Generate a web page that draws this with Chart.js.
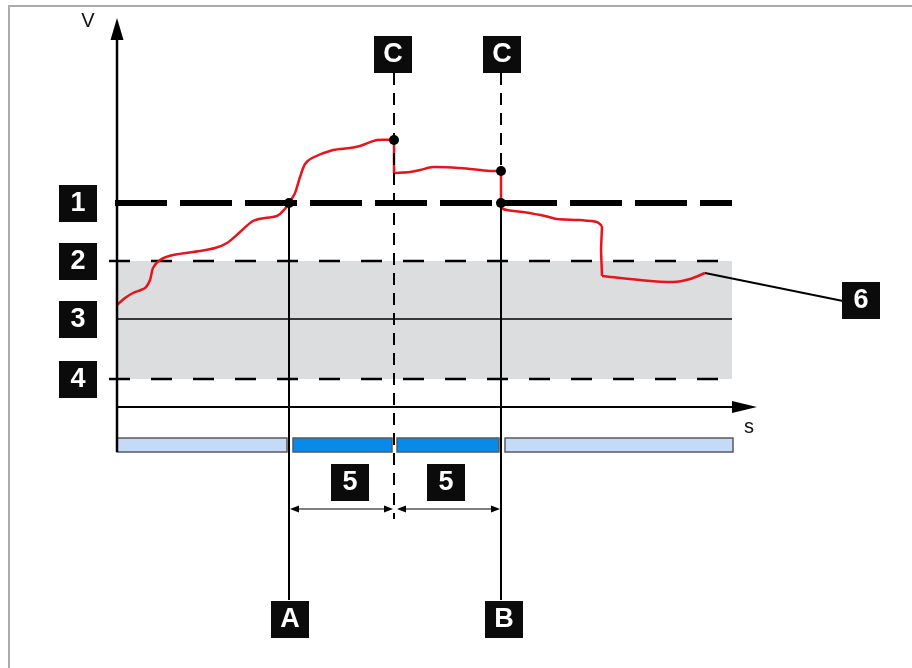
<!DOCTYPE html>
<html>
<head>
<meta charset="utf-8">
<title>Speed threshold diagram</title>
<script src="https://cdn.jsdelivr.net/npm/chart.js@4.4.0/dist/chart.umd.min.js"></script>
<style>
    html, body { margin: 0; padding: 0; background: #ffffff; }
    canvas { display: block; }
</style>
</head>
<body>
<canvas id="diagram-chart" width="912" height="668"></canvas>
<script>
// Threshold levels (V) with their labels
const levelLabels = ['1', '2', '3', '4'];
const levelValues = [40.8, 29.2, 17.6, 5.6];

// Measured speed curve (red)
const curveX = [0, 1.6, 3.2, 5.6, 6.6, 7.2, 8.6, 11.2, 16.6, 19.6, 22, 24.6, 27.2, 29.6, 32, 33.4, 34.4, 35.6, 36.6, 37.6, 39, 43.2, 46.6, 48.6, 52, 55.4,
    55.4, 58.6, 60.6, 63.2, 68.6, 74.6, 76.8,
    76.8, 77.2, 81.2, 85.6, 88, 92.6, 96, 97, 96.8, 97, 104.6, 111.2, 114.6, 117.6];
const curveY = [20.4, 21.8, 22.8, 23.8, 25.4, 27.8, 29.4, 30.4, 31.2, 31.8, 32.8, 35, 37.2, 37.8, 38.2, 39.4, 40.8, 42.8, 46, 48.6, 49.8, 51.4, 51.8, 52.2, 53.4, 53.4,
    46.8, 47, 47.4, 48, 47.8, 47.2, 47.2,
    40.8, 39.6, 39, 38.2, 37.6, 37.4, 37, 36.2, 31.4, 26.2, 25.4, 25, 25.6, 26.8];
// index ranges of the curve: smooth pieces and the straight drops between them
const curvePieces = [[0, 25, true], [25, 26, false], [26, 32, true], [32, 33, false], [33, 40, true], [40, 42, false], [42, 46, true]];

// Event markers: A, C, C/B
const eventLabels = ['A', 'C', 'C', 'B'];
const eventX = [34.4, 55.4, 76.8, 76.8];

// Highlighted points on the curve
const dotX = [34.4, 55.4, 76.8, 76.8];
const dotY = [40.8, 53.4, 47.2, 40.8];

// Bar strip below the axis
const stripStart = [0, 35.2, 56, 77.6];
const stripEnd = [34, 55, 76.4, 123.2];
const stripActive = [false, true, true, false];

const bandEnd = 123;
const RED = '#e8141c';

function pts(xs, ys) {
    return xs.map((x, i) => ({ x: x, y: ys[i] }));
}

function hLine(y, x0, x1) {
    return [{ x: x0, y: y }, { x: x1, y: y }];
}

function vLine(x, y0, y1) {
    return [{ x: x, y: y0 }, { x: x, y: y1 }];
}

// Draw a black label box with white text
function labelBox(ctx, cx, cy, text) {
    ctx.fillStyle = '#0b0b0b';
    ctx.fillRect(Math.round(cx - 19), Math.round(cy - 18.5), 38, 37);
    ctx.fillStyle = '#ffffff';
    ctx.font = 'bold 27px "Liberation Sans", Arial, sans-serif';
    ctx.textAlign = 'center';
    ctx.textBaseline = 'middle';
    ctx.fillText(text, cx, cy + 1);
}

function arrowHead(ctx, tipX, tipY, dir, len, half) {
    ctx.beginPath();
    if (dir === 'up') {
        ctx.moveTo(tipX, tipY);
        ctx.lineTo(tipX - half, tipY + len);
        ctx.lineTo(tipX + half, tipY + len);
    } else if (dir === 'right') {
        ctx.moveTo(tipX, tipY);
        ctx.lineTo(tipX - len, tipY - half);
        ctx.lineTo(tipX - len, tipY + half);
    } else {
        ctx.moveTo(tipX, tipY);
        ctx.lineTo(tipX + len, tipY - half);
        ctx.lineTo(tipX + len, tipY + half);
    }
    ctx.closePath();
    ctx.fill();
}

const diagramPlugin = {
    id: 'diagram',
    beforeDraw(chart) {
        const ctx = chart.ctx;
        // frame (top and left only)
        ctx.save();
        ctx.strokeStyle = '#ababab';
        ctx.lineWidth = 2;
        ctx.beginPath();
        ctx.moveTo(9, 668);
        ctx.lineTo(9, 6);
        ctx.lineTo(912, 6);
        ctx.stroke();
        ctx.restore();
    },
    afterDatasetsDraw(chart) {
        const ctx = chart.ctx;
        const xs = chart.scales.x;
        const ys = chart.scales.y;
        const px = v => xs.getPixelForValue(v);
        const py = v => ys.getPixelForValue(v);
        ctx.save();

        // strip below the x axis
        const sTop = py(-6.2), sBot = py(-9);
        stripStart.forEach((s, i) => {
            const x0 = px(s), x1 = px(stripEnd[i]);
            ctx.fillStyle = stripActive[i] ? '#0a8ae8' : '#c4daf7';
            ctx.fillRect(x0, sTop, x1 - x0, sBot - sTop);
            ctx.strokeStyle = '#5a5a5a';
            ctx.lineWidth = 1.5;
            ctx.strokeRect(x0, sTop, x1 - x0, sBot - sTop);
        });

        // axes
        ctx.strokeStyle = '#000';
        ctx.fillStyle = '#000';
        ctx.lineWidth = 2.5;
        ctx.beginPath();
        ctx.moveTo(px(0), py(-9));
        ctx.lineTo(px(0), py(74));
        ctx.stroke();
        arrowHead(ctx, px(0), py(77.8), 'up', 22, 6.5);
        ctx.lineWidth = 2;
        ctx.beginPath();
        ctx.moveTo(px(0), py(0));
        ctx.lineTo(px(124), py(0));
        ctx.stroke();
        arrowHead(ctx, px(128), py(0), 'right', 25, 6);

        // dimension arrows (5)
        ctx.lineWidth = 1.2;
        const dy = py(-20.4);
        [[34.6, 55.2], [56, 76.6]].forEach(([a, b]) => {
            ctx.beginPath();
            ctx.moveTo(px(a) + 4, dy);
            ctx.lineTo(px(b) - 4, dy);
            ctx.stroke();
            arrowHead(ctx, px(a), dy, 'left', 9, 3.5);
            arrowHead(ctx, px(b), dy, 'right', 9, 3.5);
        });

        // axis names
        ctx.fillStyle = '#111';
        ctx.font = '20px "Liberation Sans", Arial, sans-serif';
        ctx.textAlign = 'center';
        ctx.textBaseline = 'middle';
        ctx.fillText('V', px(-5.8), py(77.2));
        ctx.fillText('s', px(126.4), py(-4));

        // level labels
        levelLabels.forEach((l, i) => labelBox(ctx, px(-7.8), py(levelValues[i]), l));
        // event labels
        labelBox(ctx, px(55.2), py(70.6), eventLabels[1]);
        labelBox(ctx, px(77), py(70.6), eventLabels[2]);
        labelBox(ctx, px(34.6), py(-42.4), eventLabels[0]);
        labelBox(ctx, px(77.4), py(-42.4), eventLabels[3]);
        labelBox(ctx, px(46.6), py(-15), '5');
        labelBox(ctx, px(65.8), py(-15), '5');
        labelBox(ctx, px(148.8), py(21.4), '6');

        ctx.restore();
    }
};

// red curve pieces, smooth where the curve is wavy, straight on the drops
const curveSets = curvePieces.map(([a, b, smooth]) => ({
    data: pts(curveX.slice(a, b + 1), curveY.slice(a, b + 1)),
    borderColor: RED, borderWidth: 2.5, tension: smooth ? 0.3 : 0,
    pointRadius: 0, order: 5
}));

new Chart(document.getElementById('diagram-chart'), {
    type: 'line',
    data: {
        datasets: [
            {   // gray tolerance band between levels 2 and 4
                data: hLine(levelValues[1], 0, bandEnd),
                borderWidth: 0,
                pointRadius: 0,
                backgroundColor: '#dcdddf',
                fill: { value: levelValues[3] },
                order: 20
            },
            {
                data: hLine(levelValues[0], -0.4, bandEnd),
                borderColor: '#000', borderWidth: 6, borderDash: [52, 13],
                pointRadius: 0, order: 10
            },
            {
                data: hLine(levelValues[1], -1.6, bandEnd),
                borderColor: '#000', borderWidth: 2.5, borderDash: [21, 21],
                pointRadius: 0, order: 10
            },
            {
                data: hLine(levelValues[2], 0, bandEnd),
                borderColor: '#000', borderWidth: 1.5,
                pointRadius: 0, order: 10
            },
            {
                data: hLine(levelValues[3], -1.6, bandEnd),
                borderColor: '#000', borderWidth: 2.5, borderDash: [21, 21],
                pointRadius: 0, order: 10
            },
            ...curveSets,
            {   // leader to label 6
                data: [{ x: 117.6, y: 26.8 }, { x: 145.2, y: 21.2 }],
                borderColor: '#000', borderWidth: 2,
                pointRadius: 0, order: 5
            },
            {   // A
                data: vLine(eventX[0], levelValues[0], -38.6),
                borderColor: '#000', borderWidth: 2,
                pointRadius: 0, order: 3
            },
            {   // C
                data: vLine(eventX[1], 66.8, -22.4),
                borderColor: '#000', borderWidth: 2, borderDash: [12, 8],
                pointRadius: 0, order: 3
            },
            {   // C (upper part, dashed)
                data: vLine(eventX[2], 66.8, 47.2),
                borderColor: '#000', borderWidth: 2, borderDash: [12, 8],
                pointRadius: 0, order: 3
            },
            {   // B (solid)
                data: vLine(eventX[3], levelValues[0], -38.6),
                borderColor: '#000', borderWidth: 2,
                pointRadius: 0, order: 3
            },
            {   // highlighted points
                data: pts(dotX, dotY),
                showLine: false,
                pointRadius: 5, pointBackgroundColor: '#000', pointBorderWidth: 0,
                order: 1
            }
        ]
    },
    options: {
        responsive: false,
        animation: false,
        clip: false,
        layout: { padding: { left: 117, right: 155, top: 18, bottom: 216 } },
        scales: {
            x: { type: 'linear', min: 0, max: 128, display: false },
            y: { type: 'linear', min: -9, max: 77.8, display: false }
        },
        plugins: {
            legend: { display: false },
            tooltip: { enabled: false }
        }
    },
    plugins: [diagramPlugin]
});
</script>
</body>
</html>
